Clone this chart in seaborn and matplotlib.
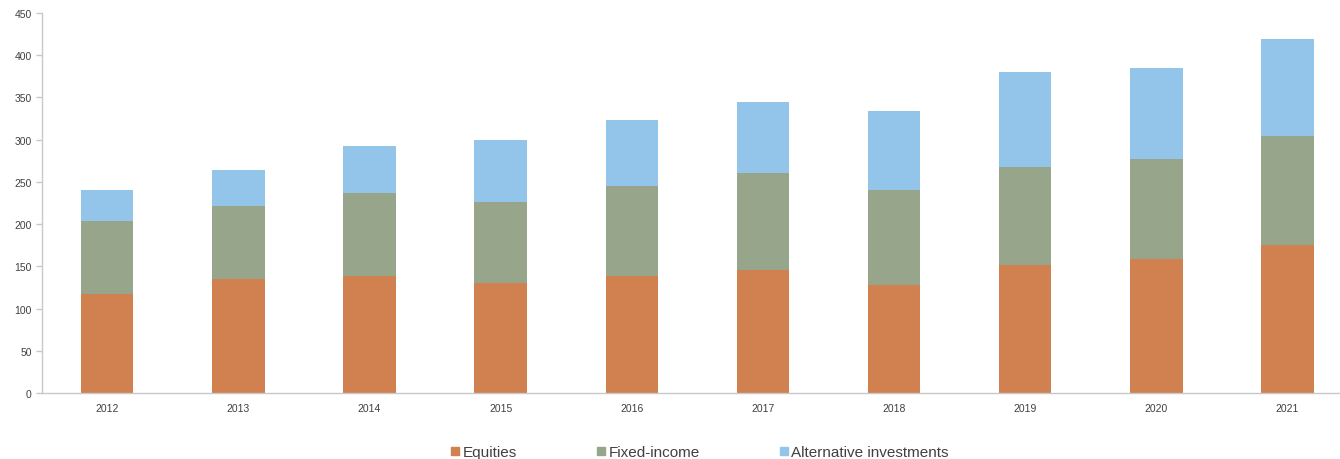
import numpy as np
import pandas as pd
import matplotlib
matplotlib.use('Agg')
import matplotlib.pyplot as plt
import seaborn as sns
from matplotlib.lines import Line2D

years = ['2012', '2013', '2014', '2015', '2016', '2017', '2018', '2019', '2020', '2021']
equities = [117, 135, 138, 130, 138, 146, 128, 152, 159, 175]
fixed_income = [87, 86, 99, 96, 107, 115, 112, 116, 118, 129]
alternatives = [36, 43, 55, 74, 78, 84, 94, 112, 108, 115]

series_names = ['Equities', 'Fixed-income', 'Alternative investments']
colors = ['#D0814F', '#97A68B', '#93C5EA']

sns.set_style('white')
plt.rcParams['font.family'] = ['Arial', 'Liberation Sans', 'DejaVu Sans']

df = pd.DataFrame({'year': years, 'eq': equities, 'fi': fixed_income, 'alt': alternatives})
df['lvl1'] = df['eq']
df['lvl2'] = df['eq'] + df['fi']
df['lvl3'] = df['lvl2'] + df['alt']

fig = plt.figure(figsize=(13.4, 4.6), dpi=100)
ax = fig.add_axes([0.031, 0.1435, 0.968, 0.826])

# stack by overlaying cumulative totals, tallest first
for col, c in zip(['lvl3', 'lvl2', 'lvl1'], colors[::-1]):
    sns.barplot(data=df, x='year', y=col, color=c, width=0.4,
                saturation=1, linewidth=0, ax=ax)

ax.set_ylim(0, 450)
ax.set_yticks(np.arange(0, 451, 50))
ax.set_xlim(-0.5, 9.39)
ax.set_xlabel('')
ax.set_ylabel('')

for s in ['top', 'right']:
    ax.spines[s].set_visible(False)
for s in ['left', 'bottom']:
    ax.spines[s].set_color('#C8C8C8')
    ax.spines[s].set_linewidth(1)

ax.set_xticks(np.arange(0.5, 9.5, 1), minor=True)
ax.tick_params(axis='x', which='major', length=0, pad=7, labelsize=7.5, labelcolor='#404040')
ax.tick_params(axis='x', which='minor', length=4, color='#C8C8C8', width=1, direction='out')
ax.tick_params(axis='y', length=4, color='#C8C8C8', width=1, left=True, pad=3,
               labelsize=7.5, labelcolor='#404040')

handles = [Line2D([0], [0], marker='s', linestyle='', markersize=6,
                  markerfacecolor=c, markeredgecolor=c) for c in colors]
fig.legend(handles, series_names, loc='lower center', bbox_to_anchor=(0.522, -0.03),
           ncol=3, frameon=False, fontsize=11, handlelength=0.6, handletextpad=0.2,
           columnspacing=5.2, labelcolor='#404040')

fig.savefig('out.png', dpi=100)
